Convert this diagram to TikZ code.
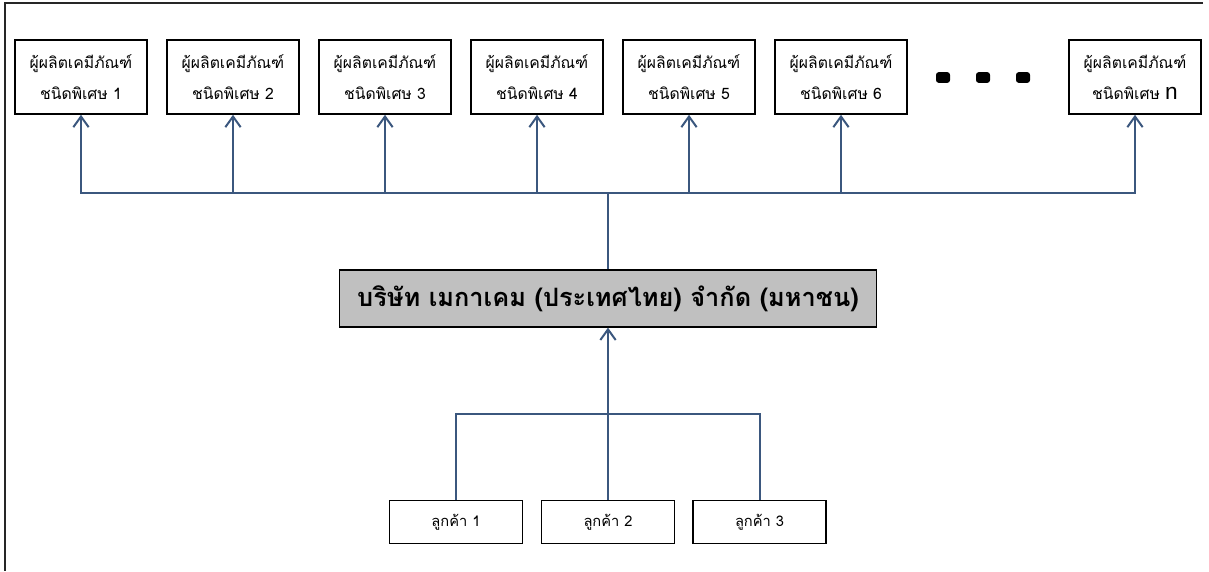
\documentclass[tikz,border=0pt]{standalone}
\usepackage{fontspec}
\setmainfont[Script=Thai]{Loma}
\newfontfamily\latinfont{Liberation Sans}
\usepackage{xcolor}
\usetikzlibrary{arrows.meta,positioning,calc}

\definecolor{linkblue}{RGB}{59,87,126}
\definecolor{firmgray}{RGB}{192,192,192}

\tikzset{
  maker/.style={draw=black,line width=1.2pt,minimum width=99pt,minimum height=55.5pt,
    align=center,inner sep=0pt,font=\fontsize{11.8}{23}\selectfont},
  buyer/.style={draw=black,line width=1.2pt,minimum width=100pt,minimum height=32pt,
    inner sep=0pt,font=\fontsize{11}{13}\selectfont},
  firm/.style={draw=black,fill=firmgray,line width=1.2pt,minimum width=403pt,minimum height=42.5pt,
    inner sep=0pt,font=\fontsize{19}{22}\selectfont\bfseries},
  link/.style={draw=linkblue,line width=1.5pt},
  uparrow/.style={link,-{Straight Barb[length=8pt,width=11.5pt,line width=1.5pt]}}
}

\begin{document}
\begin{tikzpicture}[x=0.75pt,y=-0.75pt]
  \useasboundingbox (0,0) rectangle (1209,571);
  % page frame (top and left only)
  \draw[line width=1.3pt,black!85] (1203,3) -- (5,3) -- (5,571);

  % producers
  \foreach \i/\xx in {1/81,2/233,3/385,4/537,5/689,6/841}
    \node[maker] (p\i) at (\xx,77) {ผู้ผลิตเคมีภัณฑ์\\ชนิดพิเศษ \i};
  \node[maker] (pn) at (1135,77) {ผู้ผลิตเคมีภัณฑ์\\ชนิดพิเศษ {\latinfont\fontsize{17}{17}\selectfont n}};
  \foreach \xx [count=\k] in {943,983,1023}
    \node[fill=black,rounded corners=2pt,minimum width=10.5pt,minimum height=8pt,inner sep=0pt] (dot\k) at (\xx,77.5) {};

  % company
  \node[firm] (main) at (608,298.5) {บริษัท เมกาเคม (ประเทศไทย) จำกัด (มหาชน)};

  % customers
  \node[buyer] (c1) at (456,522) {ลูกค้า 1};
  \node[buyer] (c2) at (608,522) {ลูกค้า 2};
  \node[buyer] (c3) at (759.5,522) {ลูกค้า 3};

  % connections to producers
  \coordinate (ptop) at (main.north |- 0,193);
  \draw[link] (main.north) -- (ptop);
  \foreach \n in {p1,p2,p3,p4,p5,p6,pn}
    \draw[uparrow] (ptop) -| (\n.south);

  % connections from customers
  \coordinate (cbus) at (main.south |- 0,414);
  \draw[link] (c1.north) |- (cbus) -| (c3.north);
  \draw[link] (c2.north) -- (cbus);
  \draw[uparrow,line width=2pt] (cbus) -- (main.south);
\end{tikzpicture}
\end{document}
